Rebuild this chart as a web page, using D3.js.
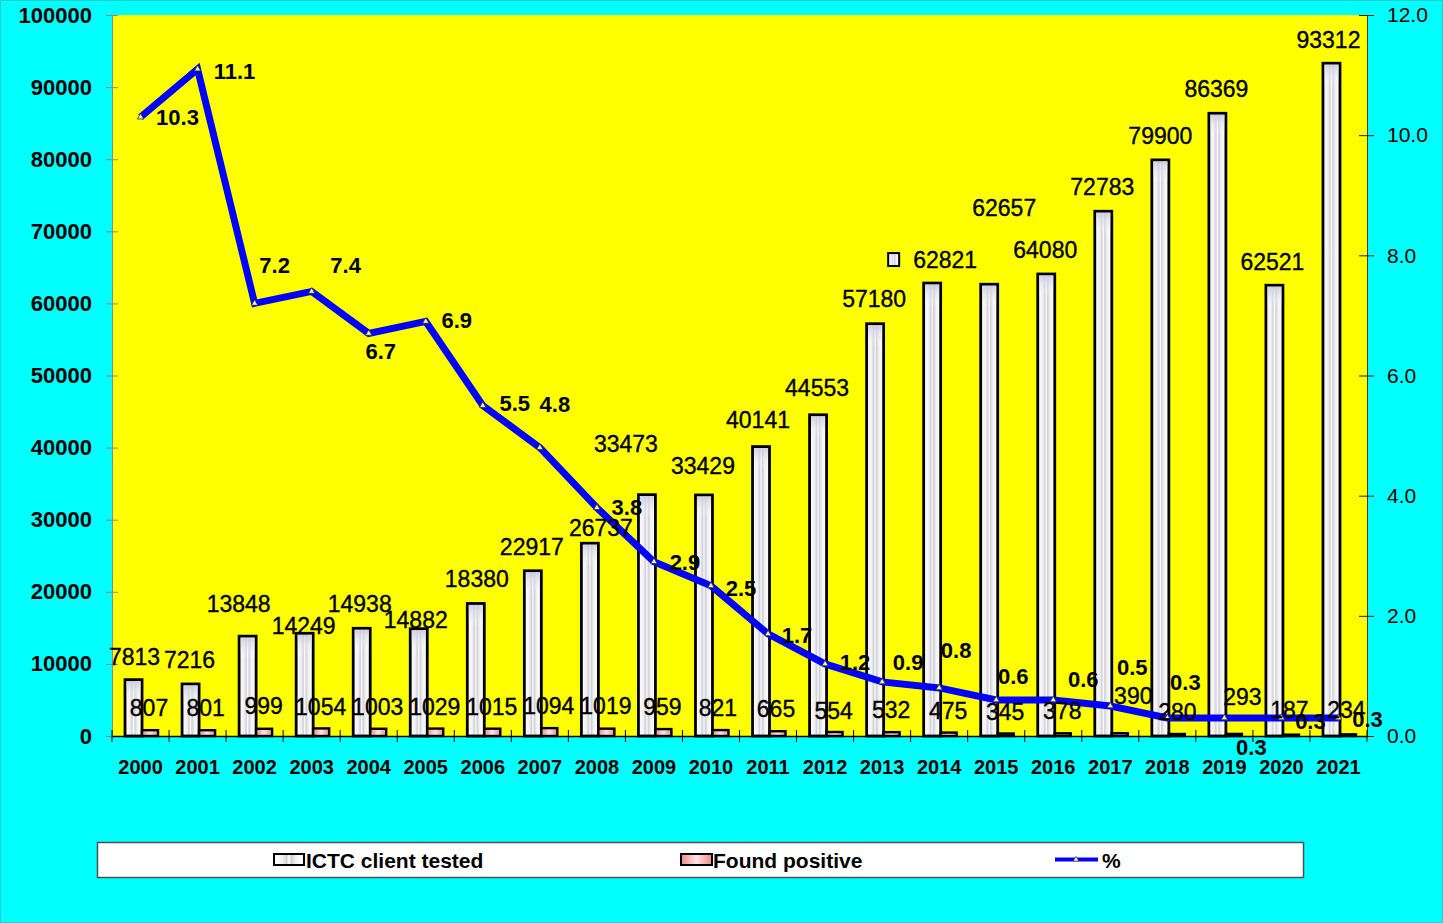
<!DOCTYPE html>
<html>
<head>
<meta charset="utf-8">
<script src="https://cdn.jsdelivr.net/npm/d3@7"></script>
<style>
  body { margin: 0; background: #00ffff; }
  svg { display: block; font-family: "Liberation Sans", Arial, sans-serif; }
</style>
</head>
<body>
<div id="chart"></div>
<script>
var years = ["2000", "2001", "2002", "2003", "2004", "2005", "2006", "2007", "2008", "2009", "2010",
             "2011", "2012", "2013", "2014", "2015", "2016", "2017", "2018", "2019", "2020", "2021"];
var tested = [7813, 7216, 13848, 14249, 14938, 14882, 18380, 22917, 26737, 33473, 33429,
              40141, 44553, 57180, 62821, 62657, 64080, 72783, 79900, 86369, 62521, 93312];
var positive = [807, 801, 999, 1054, 1003, 1029, 1015, 1094, 1019, 959, 821,
                665, 554, 532, 475, 345, 378, 390, 280, 293, 187, 234];
var percent = [10.3, 11.1, 7.2, 7.4, 6.7, 6.9, 5.5, 4.8, 3.8, 2.9, 2.5,
               1.7, 1.2, 0.9, 0.8, 0.6, 0.6, 0.5, 0.3, 0.3, 0.3, 0.3];
var leftTicks = [0, 10000, 20000, 30000, 40000, 50000, 60000, 70000, 80000, 90000, 100000];
var rightTicks = [0, 2, 4, 6, 8, 10, 12];
var seriesNames = ["ICTC client tested", "Found positive", "%"];

// label nudges (px), the labels in the original were dragged around by hand
var testedDx = [-6, -8, -16, -8, -9, -10, -6, -8, 4, -28, -8, -10, -8, -8, 6, 8, -8, -8, -7, -8, -9, -10];
var testedDy = [-23, -24, -32, -7, -24, -9, -24, -24, -15, -51, -29, -27, -27, -25, -23, -76, -24, -24, -24, -24, -23, -23];
var posDx = [8.5, 8, 9, 9, 9, 9, 9, 9, 9, 8.5, 7, 8, 8.5, 9, 9, 9, 9, 23, 10, 18, 8, 8];
var posDy = [-22, -22, -23, -21, -22, -22, -22, -22, -23, -22, -22, -22, -21, -22, -22, -22, -22, -37, -22, -37, -25, -24];
var pctDx = [37, 37, 20, 34, 12, 31, 32, 15, 30, 31, 30, 29, 30, 26, 17, 17, 30, 22, 18, 27, 29, 29];
var pctDy = [0, 2, -38, -26, 18, -1, -2, -43, 0, 1, 3, 2, -1, -19, -37, -23, -20, -38, -35, 30, 4, 2];

function draw_chart() {
    var width = 1443, height = 923;
    var plot = { left: 112, right: 1367, top: 15, bottom: 736 };
    var font = "'Liberation Sans', Arial, sans-serif";

    var svg = d3.select("#chart")
        .append("svg")
        .attr("width", width)
        .attr("height", height);

    var defs = svg.append("defs");

    var gTest = defs.append("linearGradient").attr("id", "testFill")
        .attr("x1", "0%").attr("x2", "100%").attr("y1", "0%").attr("y2", "0%");
    [["0%", "#ffffff"], ["30%", "#f0f0f4"], ["42%", "#cfcfd6"], ["50%", "#ffffff"],
     ["58%", "#cfcfd6"], ["72%", "#f2f2f2"], ["100%", "#ffffff"]].forEach(function(s) {
        gTest.append("stop").attr("offset", s[0]).attr("stop-color", s[1]);
    });

    var gTop = defs.append("linearGradient").attr("id", "testTop")
        .attr("x1", "0%").attr("x2", "0%").attr("y1", "0%").attr("y2", "100%");
    gTop.append("stop").attr("offset", "0%").attr("stop-color", "#c8c8dc").attr("stop-opacity", 0.8);
    gTop.append("stop").attr("offset", "100%").attr("stop-color", "#ffffff").attr("stop-opacity", 0);

    var gPos = defs.append("linearGradient").attr("id", "posFill")
        .attr("x1", "0%").attr("x2", "100%").attr("y1", "0%").attr("y2", "0%");
    [["0%", "#f08a8a"], ["50%", "#ffe4e4"], ["100%", "#f08a8a"]].forEach(function(s) {
        gPos.append("stop").attr("offset", s[0]).attr("stop-color", s[1]);
    });

    // background
    svg.append("rect")
        .attr("x", 0.5).attr("y", 0.5)
        .attr("width", width - 1).attr("height", height - 1)
        .style("fill", "#00ffff")
        .style("stroke", "#30c8c8");

    svg.append("rect")
        .attr("x", plot.left).attr("y", plot.top)
        .attr("width", plot.right - plot.left)
        .attr("height", plot.bottom - plot.top)
        .style("fill", "#ffff00");

    var x = d3.scaleBand()
        .domain(years)
        .range([plot.left, plot.right])
        .padding(0);
    var yLeft = d3.scaleLinear().domain([0, 100000]).range([plot.bottom, plot.top]);
    var yRight = d3.scaleLinear().domain([0, 12]).range([plot.bottom, plot.top]);
    var cx = function(i) { return x(years[i]) + x.bandwidth() / 2; };

    // left axis
    var leftAxis = svg.append("g")
        .attr("transform", "translate(" + plot.left + ",0)")
        .call(d3.axisLeft(yLeft).tickValues(leftTicks).tickFormat(d3.format("d")).tickSize(6).tickPadding(14));
    leftAxis.select(".domain").style("stroke", "#8a8a8a");
    leftAxis.selectAll(".tick line").attr("x1", 6).attr("x2", -6).style("stroke", "#8a8a8a");
    leftAxis.selectAll(".tick text")
        .style("font-size", "22px")
        .style("font-weight", "bold")
        .style("fill", "#000")
        .style("font-family", font);

    // right axis
    var rightAxis = svg.append("g")
        .attr("transform", "translate(" + plot.right + ",0)")
        .call(d3.axisRight(yRight).tickValues(rightTicks).tickFormat(d3.format(".1f")).tickSize(7).tickPadding(13));
    rightAxis.select(".domain").style("stroke", "#404040");
    rightAxis.selectAll(".tick line").attr("x1", -8).attr("x2", 7).style("stroke", "#202020");
    rightAxis.selectAll(".tick text")
        .style("font-size", "21px")
        .style("fill", "#000")
        .style("font-family", font);

    // bottom axis, ticks between categories
    var xAxis = svg.append("g")
        .attr("transform", "translate(0," + plot.bottom + ")")
        .call(d3.axisBottom(x).tickSize(0).tickPadding(24));
    xAxis.select(".domain").style("stroke", "#000").style("stroke-width", 1.5);
    xAxis.selectAll(".tick text")
        .style("font-size", "20px")
        .style("font-weight", "bold")
        .style("fill", "#000")
        .style("font-family", font);
    xAxis.selectAll(".sep")
        .data(d3.range(years.length + 1))
        .enter()
        .append("line")
        .attr("x1", function(i) { return plot.left + i * x.step(); })
        .attr("x2", function(i) { return plot.left + i * x.step(); })
        .attr("y1", -6)
        .attr("y2", 6)
        .style("stroke", "#000");

    // bars
    var bars = svg.append("g");
    bars.selectAll(".tested")
        .data(tested)
        .enter()
        .append("rect")
        .attr("x", function(d, i) { return cx(i) - 15.5; })
        .attr("y", function(d) { return yLeft(d); })
        .attr("width", 17)
        .attr("height", function(d) { return plot.bottom - yLeft(d); })
        .style("fill", "url(#testFill)")
        .style("stroke", "#000")
        .style("stroke-width", 2.8);
    bars.selectAll(".testedTop")
        .data(tested)
        .enter()
        .append("rect")
        .attr("x", function(d, i) { return cx(i) - 14; })
        .attr("y", function(d) { return yLeft(d) + 1.5; })
        .attr("width", 14)
        .attr("height", 22)
        .style("fill", "url(#testTop)");

    bars.selectAll(".positive")
        .data(positive)
        .enter()
        .append("rect")
        .attr("x", function(d, i) { return cx(i) + 1.5; })
        .attr("y", function(d) { return yLeft(d); })
        .attr("width", 16)
        .attr("height", function(d) { return plot.bottom - yLeft(d); })
        .style("fill", "url(#posFill)")
        .style("stroke", "#000")
        .style("stroke-width", 2.4);

    // percent line
    var line = d3.line()
        .x(function(d, i) { return cx(i); })
        .y(function(d) { return yRight(d); });

    svg.append("path")
        .datum(percent)
        .attr("d", line)
        .style("fill", "none")
        .style("stroke", "#0000ff")
        .style("stroke-width", 7)
        .style("stroke-linejoin", "miter");

    svg.selectAll(".marker")
        .data(percent)
        .enter()
        .append("path")
        .attr("d", d3.symbol().type(d3.symbolTriangle).size(18))
        .attr("transform", function(d, i) { return "translate(" + cx(i) + "," + yRight(d) + ")"; })
        .style("fill", "#f4f0b0")
        .style("stroke", "#303030")
        .style("stroke-width", 0.8);

    // data labels
    var labels = svg.append("g")
        .style("font-family", font)
        .attr("text-anchor", "middle")
        .attr("dominant-baseline", "central");

    labels.selectAll(".lblTested")
        .data(tested)
        .enter()
        .append("text")
        .attr("x", function(d, i) { return cx(i) + testedDx[i]; })
        .attr("y", function(d, i) { return yLeft(d) + testedDy[i]; })
        .style("font-size", "23px")
        .style("stroke", "#000")
        .style("stroke-width", 0.35)
        .text(function(d) { return d; });

    labels.selectAll(".lblPos")
        .data(positive)
        .enter()
        .append("text")
        .attr("x", function(d, i) { return cx(i) + posDx[i]; })
        .attr("y", function(d, i) { return yLeft(d) + posDy[i]; })
        .style("font-size", "23px")
        .style("stroke", "#000")
        .style("stroke-width", 0.35)
        .text(function(d) { return d; });

    labels.selectAll(".lblPct")
        .data(percent)
        .enter()
        .append("text")
        .attr("x", function(d, i) { return cx(i) + pctDx[i]; })
        .attr("y", function(d, i) { return yRight(d) + pctDy[i]; })
        .style("font-size", "22px")
        .style("font-weight", "bold")
        .text(function(d) { return d3.format(".1f")(d); });

    // stray legend key shown on the 2014 label
    var k = years.indexOf("2014");
    svg.append("rect")
        .attr("x", cx(k) + testedDx[k] - 57)
        .attr("y", yLeft(tested[k]) + testedDy[k] - 7)
        .attr("width", 11)
        .attr("height", 13)
        .style("fill", "url(#testFill)")
        .style("stroke", "#000")
        .style("stroke-width", 2);

    // legend
    var legend = svg.append("g").attr("class", "legend");
    legend.append("rect")
        .attr("x", 97.5).attr("y", 842.5)
        .attr("width", 1206).attr("height", 35)
        .style("fill", "#ffffff")
        .style("stroke", "#505050")
        .style("stroke-width", 1.5);

    var itemX = [274, 681, 1055];
    legend.append("rect")
        .attr("x", itemX[0]).attr("y", 854)
        .attr("width", 30).attr("height", 11)
        .style("fill", "url(#testFill)")
        .style("stroke", "#000")
        .style("stroke-width", 2);
    legend.append("rect")
        .attr("x", itemX[1]).attr("y", 854)
        .attr("width", 31).attr("height", 11)
        .style("fill", "url(#posFill)")
        .style("stroke", "#000")
        .style("stroke-width", 2);
    legend.append("line")
        .attr("x1", itemX[2]).attr("x2", itemX[2] + 43)
        .attr("y1", 859.5).attr("y2", 859.5)
        .style("stroke", "#0000ff")
        .style("stroke-width", 4);
    legend.append("path")
        .attr("d", d3.symbol().type(d3.symbolTriangle).size(14))
        .attr("transform", "translate(" + (itemX[2] + 21) + ",859.5)")
        .style("fill", "#f4f0b0")
        .style("stroke", "#303030")
        .style("stroke-width", 0.6);

    legend.selectAll(".lname")
        .data(seriesNames)
        .enter()
        .append("text")
        .attr("x", function(d, i) { return itemX[i] + (i == 2 ? 47 : 32); })
        .attr("y", 860)
        .attr("dominant-baseline", "central")
        .style("font-size", "21px")
        .style("font-weight", "bold")
        .text(function(d) { return d; });
}

draw_chart();
</script>
</body>
</html>
